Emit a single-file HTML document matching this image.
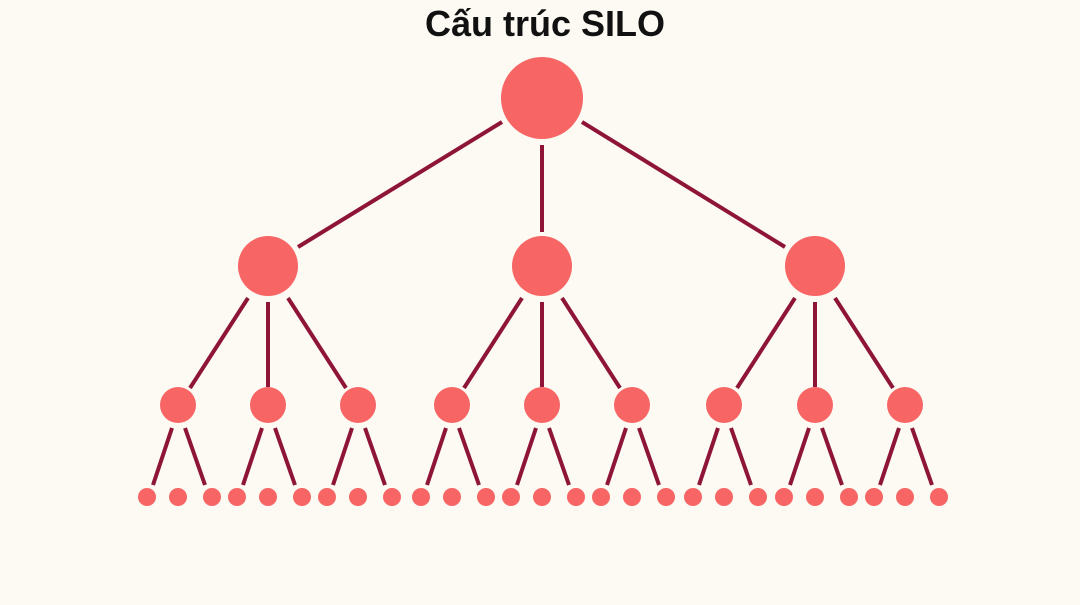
<!DOCTYPE html>
<html><head><meta charset="utf-8"><style>
html,body{margin:0;padding:0;background:#fdfaf3;}
</style></head><body>
<svg width="1080" height="600" viewBox="0 0 1080 600" xmlns="http://www.w3.org/2000/svg">
<rect width="1080" height="600" fill="#fdfaf3"/>
<text x="545" y="36" text-anchor="middle" font-family="Liberation Sans, sans-serif" font-weight="bold" font-size="36" fill="#111">Cấu trúc SILO</text>
<g stroke="#8e1538" stroke-width="4" stroke-linecap="butt">
<line x1="502" y1="122" x2="298" y2="247"/>
<line x1="542" y1="145" x2="542" y2="232"/>
<line x1="582" y1="122" x2="785" y2="247"/>
<line x1="248" y1="298" x2="190" y2="388"/><line x1="268" y1="302" x2="268" y2="387"/><line x1="288" y1="298" x2="346" y2="388"/>
<line x1="522" y1="298" x2="464" y2="388"/><line x1="542" y1="302" x2="542" y2="387"/><line x1="562" y1="298" x2="620" y2="388"/>
<line x1="795" y1="298" x2="737" y2="388"/><line x1="815" y1="302" x2="815" y2="387"/><line x1="835" y1="298" x2="893" y2="388"/>
</g>
<g fill="#f76565">
<circle cx="542" cy="98" r="41"/>
<circle cx="268" cy="266" r="30"/><circle cx="542" cy="266" r="30"/><circle cx="815" cy="266" r="30"/>
</g>
<g id="dyn"></g>
<script>
var ns="http://www.w3.org/2000/svg",g=document.getElementById('dyn');
var xs=[178,268,358,452,542,632,724,815,905];
function el(t,a){var e=document.createElementNS(ns,t);for(var k in a)e.setAttribute(k,a[k]);g.appendChild(e);}
xs.forEach(function(x){
 el('line',{x1:x-6,y1:428,x2:x-25,y2:485,stroke:'#8e1538','stroke-width':4});
 el('line',{x1:x+7,y1:428,x2:x+27,y2:485,stroke:'#8e1538','stroke-width':4});
 el('circle',{cx:x,cy:405,r:18,fill:'#f76565'});
 [x-31,x,x+34].forEach(function(lx){el('circle',{cx:lx,cy:497,r:9,fill:'#f76565'});});
});
</script>
</svg>
</body></html>
